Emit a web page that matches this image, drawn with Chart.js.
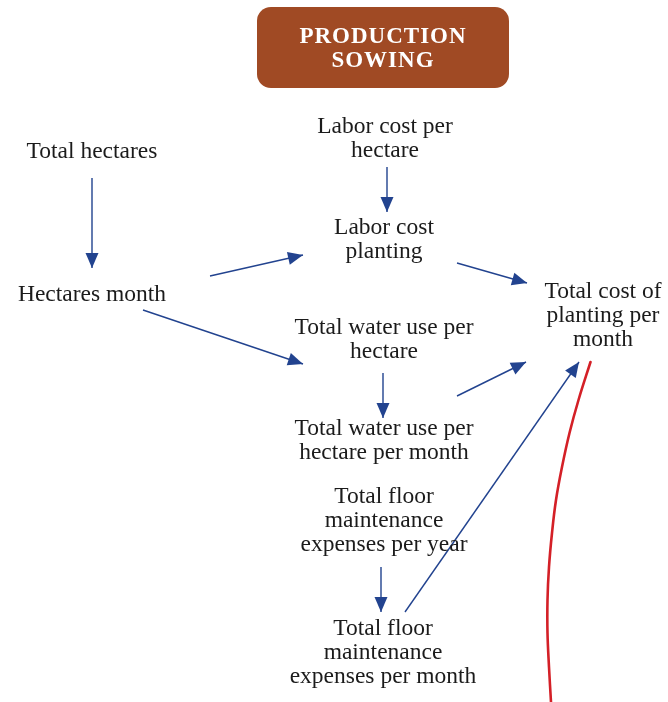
<!DOCTYPE html>
<html>
<head>
<meta charset="utf-8">
<script src="https://cdn.jsdelivr.net/npm/chart.js@4"></script>
<style>
  html, body { margin: 0; padding: 0; background: #ffffff; }
  #wrap { width: 668px; height: 702px; position: relative; }
</style>
</head>
<body>
<div id="wrap"><canvas id="c"></canvas></div>
<script>
// ---- Diagram data (data units: x 0..668, y 0..702 from top) ----
const titleLines = ["PRODUCTION", "SOWING"];
const titleBox = [257, 7, 509, 88];           // x1, y1, x2, y2

const nodeLabels = [
  ["Total hectares"],
  ["Labor cost per", "hectare"],
  ["Labor cost", "planting"],
  ["Hectares month"],
  ["Total cost of", "planting per", "month"],
  ["Total water use per", "hectare"],
  ["Total water use per", "hectare per month"],
  ["Total floor", "maintenance", "expenses per year"],
  ["Total floor", "maintenance", "expenses per month"]
];
const nodeX = [92, 385, 384, 92, 603, 384, 384, 384, 383];
const nodeY = [152, 127, 228, 295, 292, 328, 429, 497, 629]; // first line centre

// arrows: start -> tip
const arrowX1 = [92, 210, 143, 387, 457, 383, 457, 381, 405];
const arrowY1 = [178, 276, 310, 167, 263, 373, 396, 567, 612];
const arrowX2 = [92, 303, 303, 387, 527, 383, 526, 381, 579];
const arrowY2 = [268, 255, 364, 212, 283, 418, 362, 612, 362];

// red curve sample points
const curveX = [590.5, 578.5, 569.5, 562, 556, 552, 549, 547.5, 547.5, 549, 551];
const curveY = [362, 400, 433, 467, 500, 533, 567, 600, 633, 667, 702];

// ---- Styles ----
const BLUE = "#22438f";
const RED = "#d42027";
const BROWN = "#a04a24";
const TEXT = "#1b1b1b";
const FONT = "'Liberation Serif', 'DejaVu Serif', serif";

const datasets = [];
for (let i = 0; i < arrowX1.length; i++) {
  datasets.push({
    label: "arrow" + i,
    data: [{x: arrowX1[i], y: arrowY1[i]}, {x: arrowX2[i], y: arrowY2[i]}],
    showLine: true,
    borderColor: BLUE,
    borderWidth: 1.4,
    pointRadius: 0,
    isArrow: true
  });
}
datasets.push({
  label: "curve",
  data: curveX.map((x, i) => ({x: x, y: curveY[i]})),
  showLine: true,
  borderColor: RED,
  borderWidth: 2.6,
  pointRadius: 0,
  tension: 0.4,
  borderCapStyle: "round"
});

const diagramPlugin = {
  id: "diagram",
  beforeDatasetsDraw(chart) {
    const ctx = chart.ctx, xs = chart.scales.x, ys = chart.scales.y;
    // title box
    const x1 = xs.getPixelForValue(titleBox[0]), y1 = ys.getPixelForValue(titleBox[1]);
    const x2 = xs.getPixelForValue(titleBox[2]), y2 = ys.getPixelForValue(titleBox[3]);
    ctx.save();
    ctx.fillStyle = BROWN;
    ctx.beginPath();
    ctx.roundRect(x1, y1, x2 - x1, y2 - y1, 14);
    ctx.fill();
    ctx.fillStyle = "#ffffff";
    ctx.font = "bold 23px " + FONT;
    ctx.textAlign = "center";
    ctx.textBaseline = "middle";
    try { ctx.letterSpacing = "1px"; } catch (e) {}
    const cx = (x1 + x2) / 2;
    titleLines.forEach((t, i) => ctx.fillText(t, cx, y1 + 30 + i * 24));
    ctx.restore();
  },
  afterDatasetsDraw(chart) {
    const ctx = chart.ctx, xs = chart.scales.x, ys = chart.scales.y;
    ctx.save();
    // arrowheads
    chart.data.datasets.forEach((ds) => {
      if (!ds.isArrow) return;
      const a = ds.data[0], b = ds.data[1];
      const ax = xs.getPixelForValue(a.x), ay = ys.getPixelForValue(a.y);
      const bx = xs.getPixelForValue(b.x), by = ys.getPixelForValue(b.y);
      const ang = Math.atan2(by - ay, bx - ax);
      const L = 15, W = 6.5;
      ctx.fillStyle = BLUE;
      ctx.beginPath();
      ctx.moveTo(bx, by);
      ctx.lineTo(bx - L * Math.cos(ang) + W * Math.sin(ang), by - L * Math.sin(ang) - W * Math.cos(ang));
      ctx.lineTo(bx - L * Math.cos(ang) - W * Math.sin(ang), by - L * Math.sin(ang) + W * Math.cos(ang));
      ctx.closePath();
      ctx.fill();
    });
    // node labels
    ctx.fillStyle = TEXT;
    ctx.font = "23.5px " + FONT;
    ctx.textAlign = "center";
    ctx.textBaseline = "middle";
    nodeLabels.forEach((lines, i) => {
      const px = xs.getPixelForValue(nodeX[i]);
      lines.forEach((t, j) => {
        const py = ys.getPixelForValue(nodeY[i] + j * 24);
        ctx.fillText(t, px, py);
      });
    });
    ctx.restore();
  }
};

new Chart(document.getElementById("c"), {
  type: "scatter",
  data: { datasets },
  options: {
    responsive: true,
    maintainAspectRatio: false,
    animation: false,
    layout: { padding: 0 },
    plugins: { legend: { display: false }, tooltip: { enabled: false } },
    scales: {
      x: { type: "linear", min: 0, max: 668, display: false },
      y: { type: "linear", min: 0, max: 702, reverse: true, display: false }
    }
  },
  plugins: [diagramPlugin]
});
</script>
</body>
</html>
